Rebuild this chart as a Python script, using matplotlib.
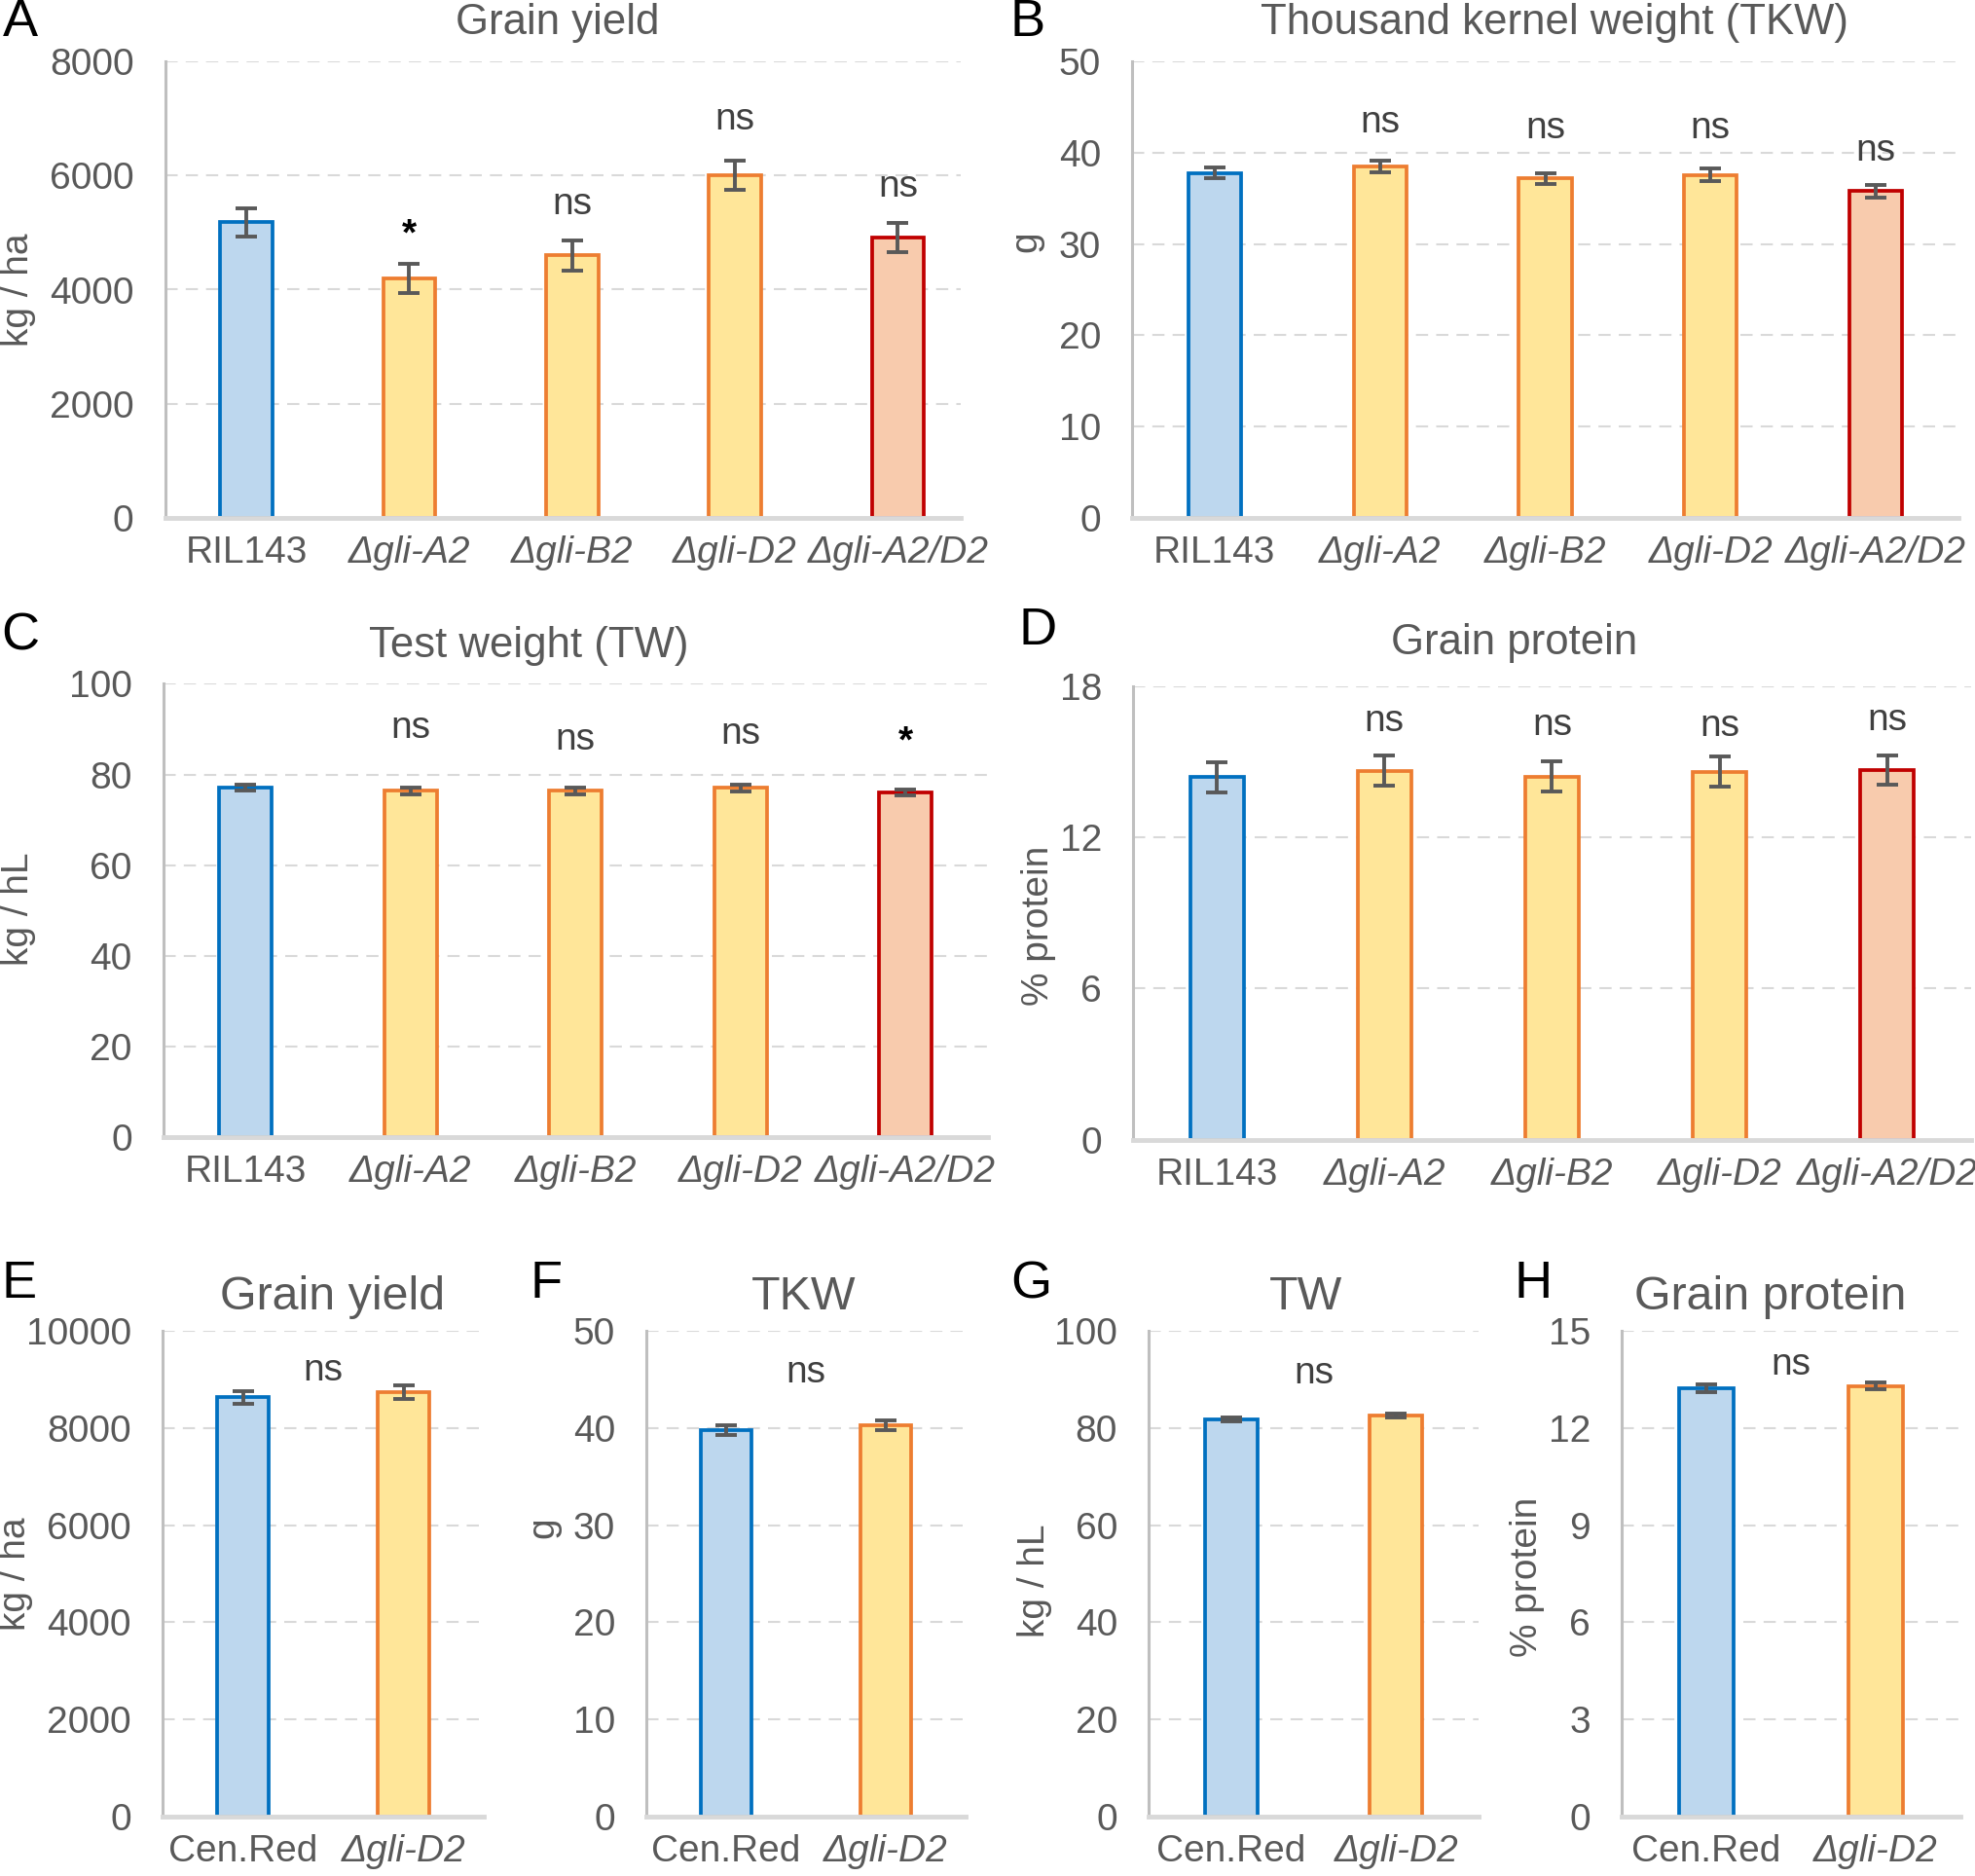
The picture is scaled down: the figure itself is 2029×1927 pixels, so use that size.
import matplotlib
matplotlib.use("Agg")
import matplotlib.pyplot as plt

plt.rcParams['font.family'] = ['Liberation Sans', 'DejaVu Sans']

# ---------------- data ----------------
lines_main = ["RIL143", "Δgli-A2", "Δgli-B2", "Δgli-D2", "Δgli-A2/D2"]
lines_cen = ["Cen.Red", "Δgli-D2"]

yield_main = [5180, 4200, 4600, 6010, 4910]
yield_main_err = [255, 260, 260, 260, 260]
yield_main_sig = ["", "*", "ns", "ns", "ns"]

tkw_main = [37.8, 38.5, 37.2, 37.6, 35.8]
tkw_main_err = [0.6, 0.6, 0.6, 0.7, 0.7]
tkw_main_sig = ["", "ns", "ns", "ns", "ns"]

tw_main = [77.1, 76.4, 76.4, 77.0, 76.0]
tw_main_err = [0.7, 0.7, 0.7, 0.7, 0.7]
tw_main_sig = ["", "ns", "ns", "ns", "*"]

prot_main = [14.4, 14.65, 14.42, 14.6, 14.67]
prot_main_err = [0.6, 0.6, 0.6, 0.6, 0.58]
prot_main_sig = ["", "ns", "ns", "ns", "ns"]

yield_cen = [8630, 8730]
yield_cen_err = [135, 140]
tkw_cen = [39.8, 40.3]
tkw_cen_err = [0.5, 0.5]
tw_cen = [81.7, 82.6]
tw_cen_err = [0.4, 0.4]
prot_cen = [13.24, 13.3]
prot_cen_err = [0.12, 0.11]
cen_sig = "ns"

# ---------------- layout / annotation heights ----------------
yield_main_sig_y = [0, 4960, 5500, 6990, 5800]
tkw_main_sig_y = [0, 43.3, 42.7, 42.7, 40.2]
tw_main_sig_y = [0, 90.3, 87.7, 89.0, 87.0]
prot_main_sig_y = [0, 16.6, 16.45, 16.4, 16.65]
cen_sig_y = {"yield": 9180, "tkw": 45.7, "tw": 91.2, "prot": 13.96}

W, H = 2029, 1927
fig = plt.figure(figsize=(W / 100, H / 100), dpi=100)

BLUE = ("#BDD7EE", "#0070C0")
YEL = ("#FFE699", "#ED7D31")
SAL = ("#F8CBAD", "#C00000")
colors_main = [BLUE, YEL, YEL, YEL, SAL]
colors_cen = [BLUE, YEL]
GRAY = "#595959"
FS = 28


def fx(x):
    return x / W


def fy(y):
    return 1 - y / H


def panel(box, cats, vals, errs, ymax, ystep, xmax, colors, sig, sig_x, sig_y,
          title, title_xy, title_size, letter, letter_xy, ylabel, ylabel_xy):
    L, R, T, B = box
    ax = fig.add_axes([fx(L), fy(B), (R - L) / W, (B - T) / H])
    x = list(range(len(cats)))
    for i in x:
        ax.bar(i, vals[i], width=0.32, color=colors[i][0], edgecolor=colors[i][1],
               linewidth=2.7, zorder=2)
    ax.errorbar(x, vals, yerr=errs, fmt='none', ecolor=GRAY, elinewidth=2.8,
                capsize=8, capthick=2.8, zorder=3)
    ax.set_ylim(0, ymax)
    ax.set_xlim(-0.5, xmax)
    ticks = [ystep * k for k in range(int(round(ymax / ystep)) + 1)]
    ax.set_yticks(ticks)
    ax.set_yticklabels([f"{t:g}" for t in ticks])
    ax.set_xticks(x)
    ax.set_xticklabels(cats)
    for lbl in ax.get_xticklabels():
        if lbl.get_text().startswith("Δ"):
            lbl.set_style("italic")
    ax.tick_params(axis='both', length=0, labelsize=FS, labelcolor=GRAY)
    ax.tick_params(axis='y', pad=23)
    ax.tick_params(axis='x', pad=13)
    ax.yaxis.grid(True, linestyle=(0, (6, 4)), color="#D9D9D9", linewidth=1.5, zorder=0)
    ax.set_axisbelow(True)
    for s in ("top", "right"):
        ax.spines[s].set_visible(False)
    ax.spines["left"].set_color("#BFBFBF")
    ax.spines["left"].set_linewidth(2.2)
    ax.spines["bottom"].set_color("#D9D9D9")
    ax.spines["bottom"].set_linewidth(3.5)
    ax.spines["bottom"].set_zorder(4)
    for xs, txt, ys in zip(sig_x, sig, sig_y):
        if txt == "*":
            ax.text(xs, ys, txt, ha='center', va='center', fontsize=FS,
                    fontweight='bold', color="#000000", zorder=5)
        elif txt:
            ax.text(xs, ys, txt, ha='center', va='center', fontsize=FS,
                    color="#404040", zorder=5)
    fig.text(fx(title_xy[0]), fy(title_xy[1]), title, ha='center', va='center',
             fontsize=title_size, color=GRAY)
    fig.text(fx(letter_xy[0]), fy(letter_xy[1]), letter, ha='center', va='center',
             fontsize=39, color="black")
    fig.text(fx(ylabel_xy[0]), fy(ylabel_xy[1]), ylabel, ha='center', va='center',
             rotation=90, fontsize=FS, color=GRAY)
    return ax


S = 1.2935
def p(x, y):
    return (x * S, y * S)


panel((169.5, 987, 63.4, 531.6), lines_main, yield_main, yield_main_err, 8000, 2000,
      4.386, colors_main, yield_main_sig, range(5), yield_main_sig_y,
      "Grain yield", p(443, 18), 31.5, "A", p(16, 18), "kg / ha", p(15, 230))

panel((1163, 2012, 63.4, 531.6), lines_main, tkw_main, tkw_main_err, 50, 10,
      4.5, colors_main, tkw_main_sig, range(5), tkw_main_sig_y,
      "Thousand kernel weight (TKW)", p(1235, 18), 31.5, "B", p(816, 18), "g", p(815, 192))

panel((167.6, 1015, 702.4, 1168), lines_main, tw_main, tw_main_err, 100, 20,
      4.5, colors_main, tw_main_sig, range(5), tw_main_sig_y,
      "Test weight (TW)", p(420, 513), 31.5, "C", p(16, 505), "kg / hL", p(15, 722))

panel((1164, 2025, 705, 1170.6), lines_main, prot_main, prot_main_err, 18, 6,
      4.5, colors_main, prot_main_sig, range(5), prot_main_sig_y,
      "Grain protein", p(1203, 511), 31.5, "D", p(824, 501), "% protein", p(825, 735))

panel((167, 497, 1367, 1866), lines_cen, yield_cen, yield_cen_err, 10000, 2000,
      1.5, colors_cen, [cen_sig], [0.5], [cen_sig_y["yield"]],
      "Grain yield", p(264, 1030), 34.8, "E", p(15, 1020), "kg / ha", p(12, 1250))

panel((664, 992, 1367, 1866), lines_cen, tkw_cen, tkw_cen_err, 50, 10,
      1.5, colors_cen, [cen_sig], [0.5], [cen_sig_y["tkw"]],
      "TKW", p(638, 1030), 34.8, "F", p(434, 1020), "g", p(432, 1213))

panel((1180, 1519, 1367, 1866), lines_cen, tw_cen, tw_cen_err, 100, 20,
      1.5, colors_cen, [cen_sig], [0.5], [cen_sig_y["tw"]],
      "TW", p(1037, 1030), 34.8, "G", p(819, 1020), "kg / hL", p(822, 1255))

panel((1666, 2014, 1367, 1866), lines_cen, prot_cen, prot_cen_err, 15, 3,
      1.5, colors_cen, [cen_sig], [0.5], [cen_sig_y["prot"]],
      "Grain protein", p(1406, 1030), 34.8, "H", p(1218, 1020), "% protein", p(1213, 1252))

fig.savefig("out.png", dpi=100, facecolor="white")
